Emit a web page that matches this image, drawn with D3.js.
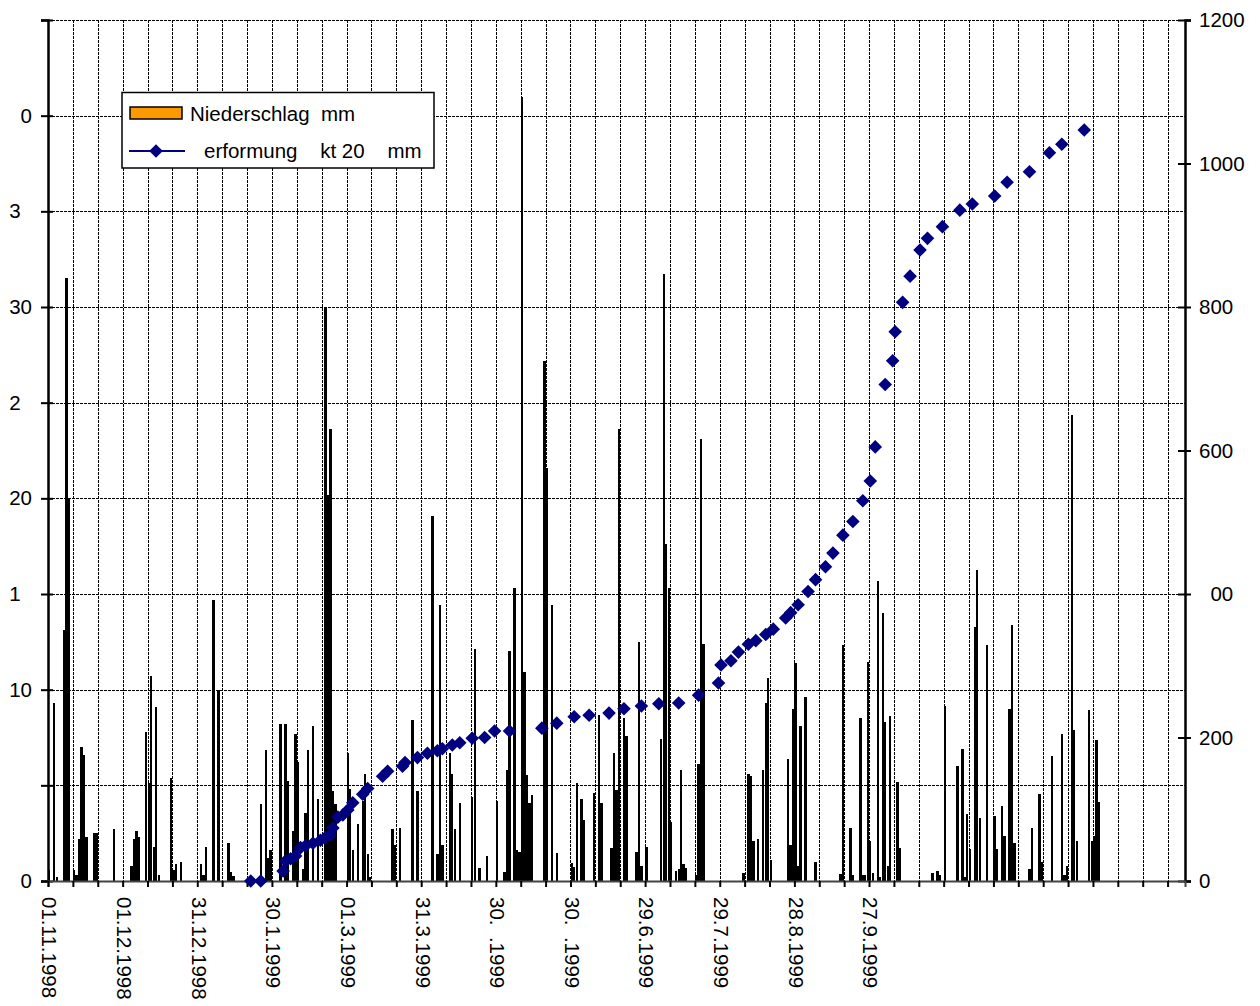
<!DOCTYPE html>
<html>
<head>
<meta charset="utf-8">
<script src="https://cdn.jsdelivr.net/npm/d3@7"></script>
<style>
  body { margin: 0; background: #fff; }
  svg text { font-family: "Liberation Sans", Arial, sans-serif; font-size: 20.5px; fill: #000; white-space: pre; }
</style>
</head>
<body>
<svg id="chart" width="1260" height="1006"></svg>
<script>
// Number of daily categories on the x axis (from 01.11.1998 onwards)
const dayCount = 457;

// Daily precipitation (Niederschlag, mm): day index from 01.11.1998 and amount
const rainDay = [0,2,3,6,7,8,10,11,12,13,14,15,18,19,26,33,34,35,36,39,40,41,42,43,44,49,50,51,53,61,62,63,66,68,72,73,74,
  85,87,88,89,93,95,96,98,99,100,102,103,104,106,108,111,112,113,114,115,120,121,122,124,126,127,128,129,138,139,141,
  146,148,154,156,157,158,161,162,163,165,170,171,173,176,180,183,184,185,187,188,189,190,191,192,193,194,199,200,202,204,210,211,212,214,215,
  219,221,222,226,227,228,229,231,232,236,237,238,240,246,247,248,249,250,252,253,254,255,256,260,261,262,263,
  279,281,282,283,285,287,288,289,290,297,298,299,300,301,302,304,308,318,319,322,323,326,327,328,329,330,331,333,334,335,336,337,338,341,342,
  355,357,358,360,365,367,368,369,370,372,373,374,377,380,381,383,384,386,387,388,394,395,398,399,403,407,408,409,411,412,413,418,419,420,421,422];
const rainMm = [0.6,9.3,0.2,13.1,31.5,20.0,0.6,0.3,2.2,7.0,6.6,2.3,2.5,2.5,2.7,0.8,2.2,2.6,2.3,7.8,5.1,10.7,1.8,9.1,0.3,5.4,0.6,0.9,1.0,0.9,0.3,1.8,14.7,10.0,2.0,0.45,0.25,
  4.0,6.85,1.2,1.6,8.2,8.2,5.25,2.6,7.7,6.2,0.65,3.55,6.85,8.1,4.3,30.0,20.2,23.6,4.7,4.0,6.7,4.8,1.6,3.0,4.2,5.6,1.4,0.2,2.7,1.9,2.75,
  8.4,4.7,19.1,1.4,14.4,1.9,6.7,5.6,2.7,4.1,4.4,12.1,0.7,1.3,4.2,0.45,5.8,12.0,15.3,1.6,1.5,41.0,10.9,5.55,4.1,4.5,27.2,21.6,14.4,1.45,0.95,0.75,5.1,4.3,3.2,
  4.6,8.7,4.1,1.7,6.7,4.75,23.6,8.5,7.6,1.5,12.5,0.8,1.8,7.4,31.7,17.6,15.3,3.1,0.5,0.65,5.8,0.9,0.7,0.3,6.1,23.1,12.4,
  0.4,5.6,5.5,2.1,2.2,5.8,9.3,10.6,1.1,6.4,1.9,9.0,11.4,0.8,8.1,9.6,1.0,0.35,12.35,2.75,0.3,8.5,0.3,0.3,11.45,2.1,0.4,15.7,0.2,14.0,8.3,0.8,8.6,5.15,1.75,
  0.4,0.5,0.3,9.15,6.0,6.9,0.2,3.5,1.65,13.3,16.25,3.3,12.35,3.4,1.65,3.9,2.35,9.0,13.4,2.0,0.65,2.75,4.55,1.0,6.55,7.7,0.3,0.8,24.35,7.9,2.1,8.95,2.1,2.35,7.35,4.15];

// Cumulative deformation readings (mm, right axis) on measuring days
const defDay = [81,85,94,95,97,99,101,103,106,109,111,113,114,116,118,120,122,126,128,134,136,142,143,148,152,156,158,162,165,170,175,179,185,
  198,204,211,217,225,231,238,245,253,261,269,270,274,277,281,284,288,291,296,298,301,305,308,312,315,319,323,327,330,332,336,339,340,343,346,
  350,353,359,366,371,380,385,394,402,407,416];
const defMm = [0,0,14,28,31,35,46.5,49,52.7,56.7,60.6,63.7,74,89,92,99,109,121,129,146,153,160,165,172,178,181.6,184.4,189.5,192.7,199,200,209,209,
  213,220,229,231,234,240,244,247,248,259,276,301,307,319,330,335,343.5,351,366.5,374,385,403.5,420,438,457,482,501,530,557.5,605,692,725,765.6,806.5,843,
  879.4,895.7,912,935,943.5,954.7,973.8,988.6,1015,1026.8,1046.7];

// Axis tick values and their printed labels
const leftTicks = [0,5,10,15,20,25,30,35,40,45];
const leftTickLabels = ["0","","10","1\u00a0\u00a0","20","2\u00a0\u00a0","30","3\u00a0\u00a0","0",""];
const rightTicks = [0,200,400,600,800,1000,1200];
const rightTickLabels = ["0","200","\u00a0\u00a000","600","800","1000","1200"];
const dateTickDays = [0,30,60,90,120,150,180,210,240,270,300,330];
const dateTickLabels = ["01.11.1998","01.12.1998","31.12.1998","30.1.1999","01.3.1999","31.3.1999",
  "30.\u00a0\u00a0.1999","30.\u00a0\u00a0.1999","29.6.1999","29.7.1999","28.8.1999","27.9.1999"];

const legendRain = "Niederschlag  mm";
const legendDef = "erformung    kt 20    mm";

const svg = d3.select("#chart");
const plotLeft = 48, plotRight = 1185, plotTop = 20, plotBottom = 881;

const x = d3.scaleLinear().domain([0, dayCount]).range([plotLeft, plotRight]);
const yL = d3.scaleLinear().domain([0, 45]).range([plotBottom, plotTop]);
const yR = d3.scaleLinear().domain([0, 1200]).range([plotBottom, plotTop]);
const w = x(1) - x(0);
const barW = w * 0.95;
const crisp = v => Math.round(v) + 0.5;

// dotted grid
const grid = svg.append("g").attr("stroke", "#000").attr("stroke-width", 1)
  .attr("stroke-dasharray", "3,1").attr("shape-rendering", "crispEdges");
grid.selectAll("line.h").data(leftTicks.filter(d => d > 0)).join("line").attr("class", "h")
  .attr("x1", plotLeft).attr("x2", plotRight)
  .attr("y1", d => crisp(yL(d))).attr("y2", d => crisp(yL(d)));
grid.selectAll("line.v").data(d3.range(10, dayCount, 10)).join("line").attr("class", "v")
  .attr("x1", d => crisp(x(d))).attr("x2", d => crisp(x(d)))
  .attr("y1", plotTop).attr("y2", plotBottom);

// precipitation bars
const rain = rainDay.map((d, i) => ({day: d, mm: rainMm[i]}));
svg.append("g").attr("shape-rendering", "crispEdges")
  .selectAll("rect").data(rain).join("rect")
  .attr("x", d => x(d.day) + (w - barW) / 2)
  .attr("width", barW)
  .attr("y", d => yL(d.mm))
  .attr("height", d => plotBottom - yL(d.mm))
  .attr("fill", "#000");

// left axis
const axL = svg.append("g").attr("transform", `translate(${plotLeft},0)`)
  .call(d3.axisLeft(yL).tickValues(leftTicks).tickSize(7).tickPadding(16)
    .tickFormat((d, i) => leftTickLabels[i]));
axL.select(".domain").attr("stroke", "#000").attr("stroke-width", 2.5);
axL.selectAll(".tick line").attr("x1", 5).attr("x2", -7).attr("stroke-width", 2);
axL.selectAll(".tick text").attr("font-size", null).attr("font-family", null).attr("x", -16);

// right axis
const axR = svg.append("g").attr("transform", `translate(${plotRight},0)`)
  .call(d3.axisRight(yR).tickValues(rightTicks).tickSize(6).tickPadding(8)
    .tickFormat((d, i) => rightTickLabels[i]));
axR.select(".domain").attr("stroke", "#000").attr("stroke-width", 2.5);
axR.selectAll(".tick line").attr("x1", -7).attr("x2", 6).attr("stroke-width", 2);
axR.selectAll(".tick text").attr("font-size", null).attr("font-family", null);

// bottom axis
const axB = svg.append("g").attr("transform", `translate(0,${plotBottom})`)
  .call(d3.axisBottom(x).tickValues(d3.range(0, dayCount, 10)).tickSize(6).tickFormat(""));
axB.select(".domain").attr("stroke", "#444").attr("stroke-width", 2);
axB.selectAll(".tick line").attr("stroke-width", 2);

// rotated date labels
svg.append("g").selectAll("text").data(dateTickDays).join("text")
  .attr("transform", d => `translate(${x(d) + 1.5},${plotBottom + 16}) rotate(90)`)
  .attr("dy", "0.35em")
  .text((d, i) => dateTickLabels[i]);

// deformation markers
const diamond = "M0,-6.8L6.8,0L0,6.8L-6.8,0Z";
const def = defDay.map((d, i) => ({day: d, mm: defMm[i]}));
svg.append("g").selectAll("path").data(def).join("path")
  .attr("d", diamond)
  .attr("transform", d => `translate(${x(d.day) + w / 2},${yR(d.mm)})`)
  .attr("fill", "#000080");

// legend
const lg = svg.append("g");
lg.append("rect").attr("x", 122).attr("y", 92.5).attr("width", 312).attr("height", 75.5)
  .attr("fill", "#fff").attr("stroke", "#000").attr("stroke-width", 1.5);
lg.append("rect").attr("x", 130).attr("y", 107).attr("width", 52).attr("height", 12)
  .attr("fill", "#ff9900").attr("stroke", "#000").attr("stroke-width", 1.5);
lg.append("text").attr("x", 190).attr("y", 121).text(legendRain);
lg.append("line").attr("x1", 129).attr("x2", 185).attr("y1", 151).attr("y2", 151)
  .attr("stroke", "#000080").attr("stroke-width", 2);
lg.append("path").attr("d", diamond).attr("transform", "translate(156,151)").attr("fill", "#000080");
lg.append("text").attr("x", 204).attr("y", 158).text(legendDef);
</script>
</body>
</html>
